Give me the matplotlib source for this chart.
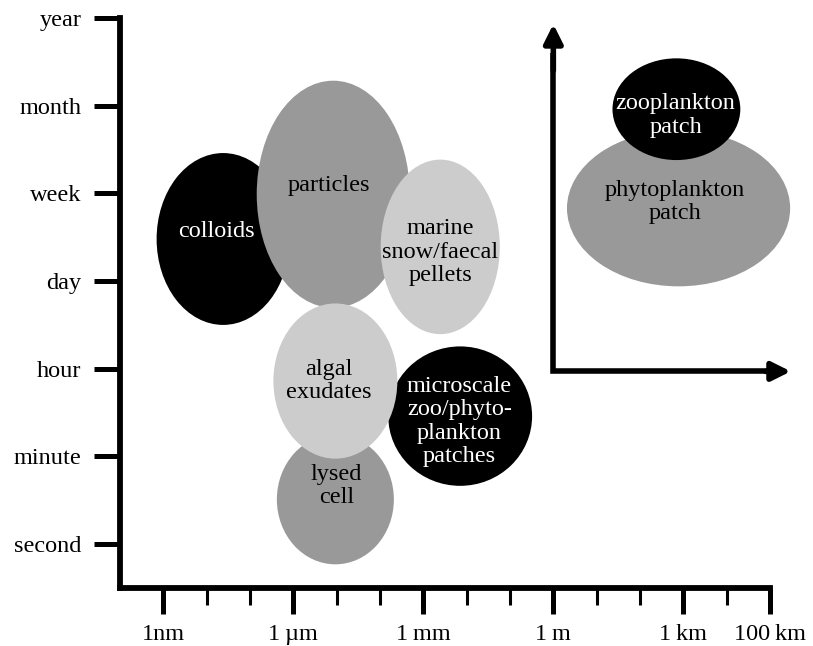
import matplotlib
matplotlib.use("Agg")
import matplotlib.pyplot as plt
from matplotlib.patches import Ellipse

plt.rcParams['font.family'] = ['Liberation Serif', 'DejaVu Serif']

# time scale (y) and length scale (x, log10 metres)
time_labels = ["second", "minute", "hour", "day", "week", "month", "year"]
time_pos = [0, 1, 2, 3, 4, 5, 6]
size_labels = ["1nm", "1\u2009µm", "1\u2009mm", "1\u2009m", "1\u2009km", "100\u2009km"]
size_pos = [-9, -6, -3, 0, 3, 5]
minor_pos = [-8, -7, -5, -4, -2, -1, 1, 2, 4]

# ellipses: label, centre x, centre y, width, height, fill, text colour
labels = ["colloids", "particles", "marine\nsnow/faecal\npellets",
          "lysed\ncell", "microscale\nzoo/phyto-\nplankton\npatches",
          "algal\nexudates", "phytoplankton\npatch", "zooplankton\npatch"]
cx = [-7.62, -5.08, -2.61, -5.03, -2.15, -5.03, 2.89, 2.84]
cy = [3.48, 3.99, 3.39, 0.51, 1.46, 1.86, 3.83, 4.96]
ew = [3.07, 3.53, 2.75, 2.70, 3.32, 2.86, 5.15, 2.95]
eh = [1.96, 2.59, 1.99, 1.48, 1.59, 1.77, 1.78, 1.16]
fills = ["#000000", "#999999", "#cccccc", "#999999", "#000000", "#cccccc", "#999999", "#000000"]
tcols = ["white", "black", "black", "black", "white", "black", "black", "white"]
tx = [-7.78, -5.17, -2.61, -5.0, -2.17, -5.18, 2.8, 2.82]
ty = [3.56, 4.09, 3.33, 0.66, 1.40, 1.86, 3.90, 4.89]

fig = plt.figure(figsize=(8.13, 6.46), dpi=100)
ax = fig.add_axes([120/813, 1-588/646, 650/813, 570/646])
ax.set_xlim(-10, 5)
ax.set_ylim(-0.5, 6)

for s in ["top", "right"]:
    ax.spines[s].set_visible(False)
for s in ["left", "bottom"]:
    ax.spines[s].set_linewidth(4.2)
    ax.spines[s].set_capstyle("projecting")

ax.set_yticks(time_pos)
ax.set_yticklabels(time_labels, fontsize=17.5)
ax.tick_params(axis="y", direction="out", length=19, width=3.6, pad=9)

ax.set_xticks(size_pos)
ax.set_xticklabels(size_labels, fontsize=17.5)
ax.set_xticks(minor_pos, minor=True)
ax.tick_params(axis="x", which="major", direction="out", length=19, width=3.6, pad=7)
ax.tick_params(axis="x", which="minor", direction="out", length=12, width=2.2)

for i in range(len(labels)):
    e = Ellipse((cx[i], cy[i]), ew[i], eh[i], facecolor=fills[i], edgecolor="none",
                clip_on=False, zorder=2 + i)
    ax.add_patch(e)
    ax.text(tx[i], ty[i], labels[i], color=tcols[i], fontsize=17.5, ha="center", va="center",
            linespacing=1.15, zorder=20, clip_on=False)

# inset axes arrows
corner_x, corner_y = 0.0, 1.97
ax.plot([corner_x, corner_x, 5.1], [5.6, corner_y, corner_y], color="black", lw=4,
        solid_joinstyle="miter", solid_capstyle="butt", clip_on=False, zorder=30)
ax.annotate("", xy=(corner_x, 5.93), xytext=(corner_x, 5.4),
            arrowprops=dict(arrowstyle="-|>", color="black", lw=4, mutation_scale=28,
                            shrinkA=0, shrinkB=0), annotation_clip=False, zorder=30)
ax.annotate("", xy=(5.48, corner_y), xytext=(4.9, corner_y),
            arrowprops=dict(arrowstyle="-|>", color="black", lw=4, mutation_scale=28,
                            shrinkA=0, shrinkB=0), annotation_clip=False, zorder=30)

fig.savefig("out.png", dpi=100)
